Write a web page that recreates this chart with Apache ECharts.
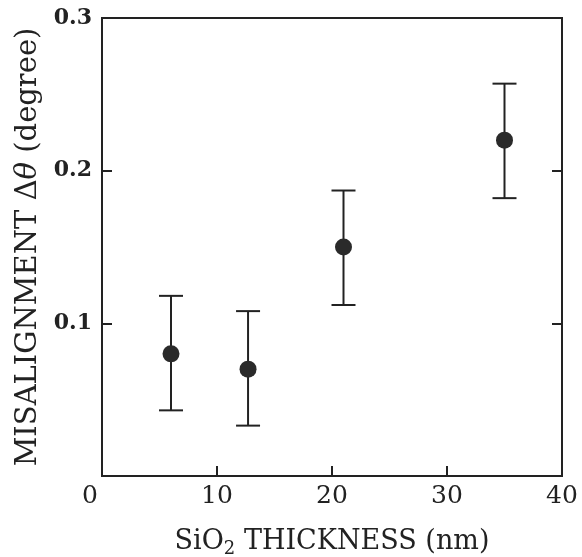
<!DOCTYPE html>
<html>
<head>
<meta charset="utf-8">
<script src="https://cdn.jsdelivr.net/npm/echarts@6/dist/echarts.min.js"></script>
<style>html,body{margin:0;padding:0;background:#fff;overflow:hidden;}#c{width:582px;height:557px;}</style>
</head>
<body>
<div id="c"></div>
<script>
var thickness = [6, 12.7, 21, 35];
var misalignment = [0.08, 0.07, 0.15, 0.22];
var errLow = [0.043, 0.033, 0.112, 0.182];
var errHigh = [0.118, 0.108, 0.187, 0.257];
var xTicks = [0, 10, 20, 30, 40];
var yTicks = [0.1, 0.2, 0.3];

var FONT = 'DejaVu Serif';
var INK = '#222';

var points = thickness.map(function (x, i) { return [x, misalignment[i]]; });
var bars = thickness.map(function (x, i) { return [x, errLow[i], errHigh[i]]; });

var chart = echarts.init(document.getElementById('c'), null, {renderer: 'canvas'});
chart.setOption({
  backgroundColor: '#fff',
  animation: false,
  grid: {left: 102, right: 20, top: 18, bottom: 81, show: true, borderColor: INK, borderWidth: 2,
    containLabel: false, outerBoundsMode: 'none'},
  xAxis: [{
    type: 'value', min: 0, max: 40, interval: 10,
    name: '{a|SiO}{s|2}{a| THICKNESS (nm)}', nameLocation: 'middle', nameGap: 50,
    nameTextStyle: {fontFamily: FONT, fontSize: 27, color: INK,
      rich: {
        a: {fontFamily: FONT, fontSize: 27, color: INK},
        s: {fontFamily: FONT, fontSize: 18, color: INK, padding: [14, 0, 0, 0]}
      }},
    axisLine: {lineStyle: {color: INK, width: 2}},
    axisTick: {inside: true, length: 10, lineStyle: {color: INK, width: 2}},
    axisLabel: {fontFamily: FONT, fontSize: 25, color: INK, margin: 8,
      formatter: function (v) {
        if (v === 0) return '{z|0}';
        return xTicks.indexOf(v) >= 0 ? String(v) : '';
      },
      rich: {z: {fontFamily: FONT, fontSize: 25, color: INK, padding: [0, 24, 0, 0]}}},
    splitLine: {show: false}
  }],
  yAxis: [{
    type: 'value', min: 0, max: 0.3, interval: 0.1,
    name: '{a|MISALIGNMENT \u0394}{i|\u03b8}{a| (degree)}', nameLocation: 'middle', nameGap: 58,
    nameTextStyle: {fontFamily: FONT, fontSize: 29, color: INK,
      rich: {
        a: {fontFamily: FONT, fontSize: 29, color: INK},
        i: {fontFamily: FONT, fontSize: 29, color: INK, fontStyle: 'italic'}
      }},
    axisLine: {lineStyle: {color: INK, width: 2}},
    axisTick: {inside: true, length: 10, lineStyle: {color: INK, width: 2}},
    axisLabel: {fontFamily: FONT, fontSize: 22, color: INK, fontWeight: 'bold', margin: 10,
      formatter: function (v) {
        for (var i = 0; i < yTicks.length; i++) { if (Math.abs(v - yTicks[i]) < 1e-9) return yTicks[i].toFixed(1); }
        return '';
      }},
    splitLine: {show: false}
  }, {
    type: 'value', min: 0, max: 0.3, interval: 0.1, position: 'right',
    axisLine: {show: true, lineStyle: {color: INK, width: 2}},
    axisTick: {show: true, inside: true, length: 10, lineStyle: {color: INK, width: 2}},
    axisLabel: {show: false},
    splitLine: {show: false}
  }],
  series: [{
    type: 'custom',
    data: bars,
    encode: {x: 0, y: [1, 2]},
    renderItem: function (params, api) {
      var x = api.value(0);
      var lo = api.coord([x, api.value(1)]);
      var hi = api.coord([x, api.value(2)]);
      var hw = 12;
      var st = {stroke: INK, lineWidth: 2};
      return {type: 'group', children: [
        {type: 'line', shape: {x1: lo[0], y1: lo[1], x2: hi[0], y2: hi[1]}, style: st},
        {type: 'line', shape: {x1: lo[0] - hw, y1: lo[1], x2: lo[0] + hw, y2: lo[1]}, style: st},
        {type: 'line', shape: {x1: hi[0] - hw, y1: hi[1], x2: hi[0] + hw, y2: hi[1]}, style: st}
      ]};
    },
    z: 2
  }, {
    type: 'scatter',
    data: points,
    symbol: 'circle',
    symbolSize: 17,
    itemStyle: {color: '#2a2a2a', opacity: 1},
    z: 3
  }]
});
</script>
</body>
</html>
